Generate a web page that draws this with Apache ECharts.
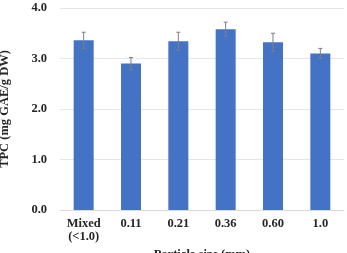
<!DOCTYPE html>
<html>
<head>
<meta charset="utf-8">
<script src="https://cdn.jsdelivr.net/npm/echarts@6/dist/echarts.min.js"></script>
<style>html,body{margin:0;padding:0;background:#fff}#c{width:347px;height:253px}</style>
</head>
<body>
<div id="c"></div>
<script>
var categories = ['Mixed\n(<1.0)', '0.11', '0.21', '0.36', '0.60', '1.0'];
var tpcValues = [3.36, 2.90, 3.34, 3.58, 3.32, 3.10];
var tpcErrors = [0.16, 0.12, 0.18, 0.14, 0.18, 0.10];

var font = 'Liberation Serif';
var chart = echarts.init(document.getElementById('c'));

var errData = tpcValues.map(function (v, i) {
  return [i, v - tpcErrors[i], v + tpcErrors[i]];
});

chart.setOption({
  animation: false,
  grid: { left: 60, right: 3, top: 8, bottom: 43, outerBoundsMode: 'none' },
  xAxis: {
    type: 'category',
    data: categories,
    name: 'Particle size (mm)',
    nameLocation: 'middle',
    nameGap: 24,
    nameTextStyle: { fontFamily: font, fontWeight: 'bold', fontSize: 12.5, color: '#262626' },
    axisLine: { lineStyle: { color: '#d9d9d9' } },
    axisTick: { show: false },
    axisLabel: { fontFamily: font, fontWeight: 'bold', fontSize: 12.5, color: '#262626', margin: 7, lineHeight: 13 }
  },
  yAxis: {
    type: 'value',
    min: 0, max: 4, interval: 1,
    name: 'TPC (mg GAE/g DW)',
    nameLocation: 'middle',
    nameGap: 49,
    nameTextStyle: { fontFamily: font, fontWeight: 'bold', fontSize: 12.5, color: '#262626' },
    axisLabel: {
      fontFamily: font, fontWeight: 'bold', fontSize: 12.5, color: '#262626', margin: 13,
      formatter: function (v) { return v.toFixed(1); }
    },
    splitLine: { lineStyle: { color: '#e6e6e6' } }
  },
  series: [
    {
      type: 'bar',
      data: tpcValues,
      barWidth: 20,
      itemStyle: { color: '#4472C4' }
    },
    {
      type: 'custom',
      data: errData,
      z: 10,
      renderItem: function (params, api) {
        var x = api.value(0);
        var lo = api.coord([x, api.value(1)]);
        var hi = api.coord([x, api.value(2)]);
        var w = 2;
        var st = { stroke: '#7f7f7f', lineWidth: 1 };
        return {
          type: 'group',
          children: [
            { type: 'line', shape: { x1: hi[0], y1: hi[1], x2: lo[0], y2: lo[1] }, style: st },
            { type: 'line', shape: { x1: hi[0] - w, y1: hi[1], x2: hi[0] + w, y2: hi[1] }, style: st },
            { type: 'line', shape: { x1: lo[0] - w, y1: lo[1], x2: lo[0] + w, y2: lo[1] }, style: st }
          ]
        };
      }
    }
  ]
});
</script>
</body>
</html>
